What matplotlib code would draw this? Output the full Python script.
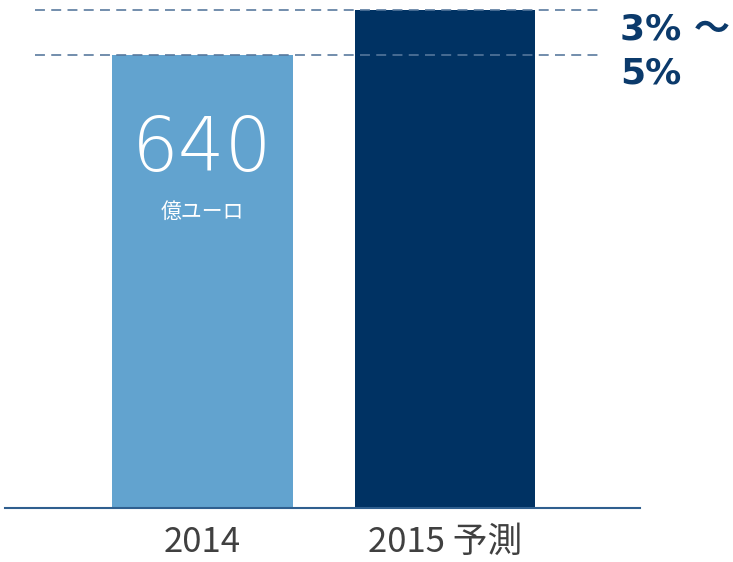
import matplotlib
matplotlib.use("Agg")
import matplotlib.pyplot as plt

years = ["2014", "2015 予測"]
values = [640, 704]
colors = ["#62a3cf", "#003263"]
growth_text = ["3% ～", "5%"]

fig = plt.figure(figsize=(7.33, 5.62), dpi=100)
ax = fig.add_axes([5 / 733, 1 - 508 / 562, 635 / 733, 498 / 562])

x = [0, 1]
ax.bar(x, values, width=0.746, color=colors, zorder=2)
ax.set_xlim(-0.814, 1.804)
ax.set_ylim(0, values[1])

# dashed reference lines at the top of each bar
ax.hlines(values, -0.691, 1.639, colors="#56779c", linestyles=(0, (5.5, 3.5)),
          linewidth=1.3, alpha=0.9, zorder=3, clip_on=False)

# value label on the 2014 bar
ax.text(0, values[0] * 0.79, str(values[0]), ha="center", va="center", color="white",
        fontsize=53, family=["DejaVu Sans"], fontweight="light", zorder=4)
ax.text(0, values[0] * 0.655, "億ユーロ", ha="center", va="center", color="white",
        fontsize=15, family=["Noto Sans CJK JP"], zorder=4)

for s in ["top", "left", "right"]:
    ax.spines[s].set_visible(False)
ax.spines["bottom"].set_color("#2f5f8f")
ax.spines["bottom"].set_linewidth(1.5)
ax.set_yticks([])
ax.set_xticks(x)
ax.set_xticklabels(years, fontsize=25, color="#404040", family=["Noto Sans CJK JP"])
ax.tick_params(axis="x", length=0, pad=12)

fig.text(620 / 733, 1 - 29 / 562, growth_text[0], ha="left", va="center", color="#0b3a6b",
         fontsize=26, fontweight="bold", family=["DejaVu Sans", "Noto Sans CJK JP"])
fig.text(620 / 733, 1 - 74 / 562, growth_text[1], ha="left", va="center", color="#0b3a6b",
         fontsize=26, fontweight="bold", family=["DejaVu Sans", "Noto Sans CJK JP"])

fig.savefig("out.png", dpi=100)
